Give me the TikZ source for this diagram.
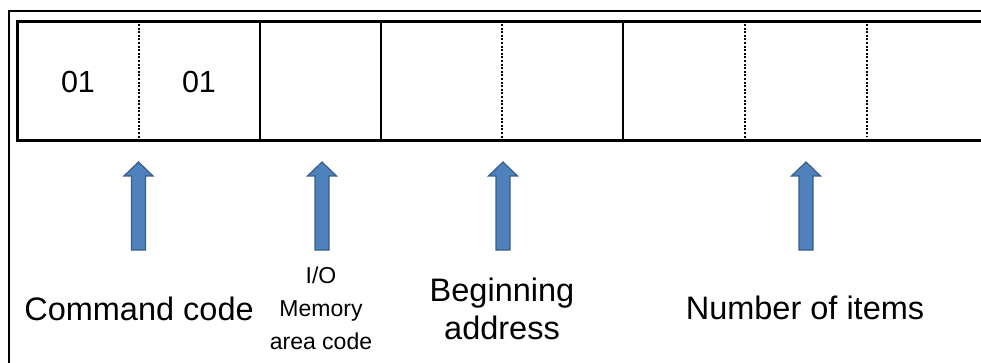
\documentclass[tikz,border=0pt]{standalone}
\usepackage{fontspec}
\setmainfont{Liberation Sans}
\definecolor{arrowfill}{HTML}{4F81BD}
\definecolor{arrowline}{HTML}{385D8A}
\tikzset{
  frameline/.style={line width=1.5pt, black},
  tableline/.style={line width=3pt, black},
  solidsep/.style={line width=2pt, black},
  dotsep/.style={line width=1.5pt, black, dash pattern=on 2pt off 1.6pt},
  bigtext/.style={font=\fontsize{32.5}{38}\selectfont, align=center, inner sep=0pt},
  smalltext/.style={font=\fontsize{23}{33}\selectfont, align=center, inner sep=0pt},
  celltext/.style={font=\fontsize{30.5}{36}\selectfont, inner sep=0pt},
  pics/uparrow/.style={code={
    \path[fill=arrowfill, draw=arrowline, line width=1.2pt, line join=miter]
      (-7,0) -- (-7,-74) -- (-14.5,-74) -- (0,-88) -- (14.5,-74) -- (7,-74) -- (7,0) -- cycle;
  }}
}
\begin{document}
\begin{tikzpicture}[x=1pt, y=-1pt]
\useasboundingbox (0,0) rectangle (981,363);
% outer frame (clipped by the page)
\coordinate (ftl) at (9,11);
\coordinate (ftr) at (985,11);
\coordinate (fbl) at (9,370);
\draw[frameline] (ftr) -- (ftl) -- (fbl);
% table
\coordinate (ttl) at (17,22);
\coordinate (ttr) at (985,22);
\coordinate (tbl) at (17,141);
\coordinate (tbr) at (985,141);
\draw[tableline] (ttr) -- (ttl) -- (tbl) -- (tbr);
\draw[solidsep] (260,22) -- (260,141);
\draw[solidsep] (381,22) -- (381,141);
\draw[solidsep] (623,22) -- (623,141);
\draw[dotsep] (139,24) -- (139,139);
\draw[dotsep] (502,24) -- (502,139);
\draw[dotsep] (745,24) -- (745,139);
\draw[dotsep] (867,24) -- (867,136);
% cell texts
\node[celltext] (c1) at (78,82) {01};
\node[celltext] (c2) at (199,82) {01};
% arrows
\pic at (138.5,250) {uparrow};
\pic at (322,250) {uparrow};
\pic at (503,250) {uparrow};
\pic at (806,250) {uparrow};
% labels
\node[bigtext] (cmd) at (139,309) {Command code};
\node[smalltext] (io) at (321,308) {I/O\\Memory\\area code};
\node[bigtext] (beg) at (502,309) {Beginning\\address};
\node[bigtext] (num) at (805,308) {Number of items};
\end{tikzpicture}
\end{document}
